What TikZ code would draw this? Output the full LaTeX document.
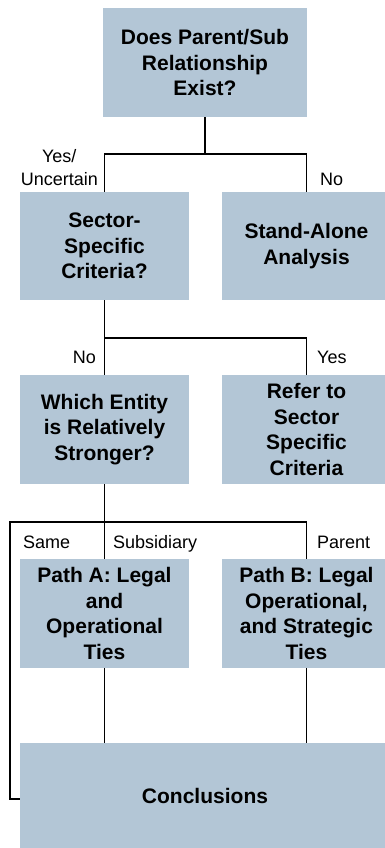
\documentclass[tikz,border=0pt]{standalone}
\usepackage{fontspec}
\setmainfont{Liberation Sans}
\definecolor{boxfill}{RGB}{179,198,214}
\begin{document}
\begin{tikzpicture}[x=1pt,y=-1pt,
  box/.style={fill=boxfill,draw=none,inner sep=0pt,align=center,
    font=\fontsize{21}{25.5}\selectfont\bfseries},
  lab/.style={inner sep=0pt,font=\fontsize{18}{23}\selectfont},
  conn/.style={line width=1.8pt}]
\useasboundingbox (0,0) rectangle (385,848);
\clip (0,0) rectangle (385,848);
\node[box,minimum width=204pt,minimum height=109pt] (q1) at (205,62.5) {Does Parent/Sub\\Relationship\\Exist?};
\node[box,minimum width=169pt,minimum height=108pt] (q2) at (104.5,246) {Sector-\\Specific\\Criteria?};
\node[box,minimum width=169pt,minimum height=108pt] (sa) at (306.5,246) {Stand-Alone\\Analysis};
\node[box,minimum width=169pt,minimum height=109pt] (q3) at (104.5,429.5) {Which Entity\\is Relatively\\Stronger?};
\node[box,minimum width=169pt,minimum height=109pt] (ref) at (306.5,429.5) {Refer to\\Sector\\Specific\\Criteria};
\node[box,minimum width=169pt,minimum height=109pt] (pa) at (104.5,613.5) {Path A: Legal\\and\\Operational\\Ties};
\node[box,minimum width=169pt,minimum height=109pt] (pb) at (306.5,613.5) {Path B: Legal\\Operational,\\and Strategic\\Ties};
\node[box,minimum width=370pt,minimum height=105pt] (conc) at (205,795.5) {Conclusions};

\coordinate (j1) at (205,154);
\coordinate (j2) at (104.5,338);
\coordinate (j3) at (104.5,522);
\coordinate (c1) at (10,799);
\draw[conn] (q1.south) -- (j1);
\draw[conn] (q2.north) |- (j1) -| (sa.north);
\draw[conn] (q2.south) -- (q3.north);
\draw[conn] (j2) -| (ref.north);
\draw[conn] (q3.south) -- (pa.north);
\draw[conn] (j3) -| (pb.north);
\draw[conn] (j3) -| (c1) -- (c1 -| conc.west);
\draw[conn] (pa.south) -- (pa.south |- conc.north);
\draw[conn] (pb.south) -- (pb.south |- conc.north);

\node[lab,align=center,anchor=base east] (l1) at (98,185) {Yes/\\Uncertain};
\node[lab,anchor=base west] (l2) at (320,185) {No};
\node[lab,anchor=base east] (l3) at (96,363) {No};
\node[lab,anchor=base west] (l4) at (317,363) {Yes};
\node[lab,anchor=base west] (l5) at (23,548) {Same};
\node[lab,anchor=base west] (l6) at (113,548) {Subsidiary};
\node[lab,anchor=base west] (l7) at (317,548) {Parent};
\end{tikzpicture}
\end{document}
